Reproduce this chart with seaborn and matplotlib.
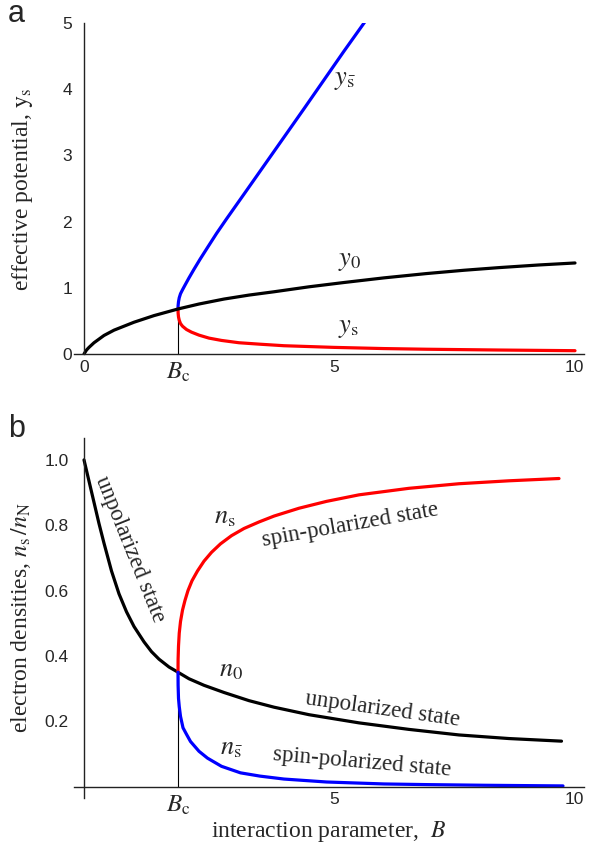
import matplotlib
matplotlib.use("Agg")
import matplotlib.pyplot as plt
import seaborn as sns

# ---------------- data ----------------
Bc = 1.88

# panel a: effective potentials
a_y0_B = [0.0, 0.05, 0.1, 0.2, 0.4, 0.6, 1.0, 1.4, 1.88, 2.3, 2.8, 3.3, 3.8, 4.5, 5.2, 6.0, 6.85, 7.6, 8.3, 9.1, 9.82]
a_y0 = [0.0, 0.06, 0.1, 0.17, 0.28, 0.36, 0.48, 0.58, 0.68, 0.755, 0.83, 0.89, 0.94, 1.015, 1.08, 1.15, 1.215, 1.265, 1.305, 1.345, 1.375]

a_ysb_B = [1.88, 1.882, 1.89, 1.905, 1.93, 1.97, 2.02, 2.10, 2.20, 2.32, 2.48, 2.65, 2.85, 3.2, 3.6, 4.0, 4.4, 4.8, 5.2, 5.62]
a_ysb = [0.68, 0.73, 0.79, 0.85, 0.91, 0.97, 1.04, 1.15, 1.28, 1.43, 1.62, 1.82, 2.04, 2.415, 2.845, 3.275, 3.705, 4.14, 4.575, 5.02]

a_ys_B = [1.88, 1.882, 1.89, 1.905, 1.93, 1.97, 2.05, 2.15, 2.30, 2.50, 2.75, 3.10, 3.52, 4.0, 5.0, 6.0, 6.85, 8.3, 9.82]
a_ys = [0.68, 0.62, 0.56, 0.51, 0.46, 0.42, 0.37, 0.33, 0.285, 0.24, 0.205, 0.17, 0.148, 0.125, 0.10, 0.082, 0.072, 0.06, 0.05]

# panel b: electron densities
b_n0_B = [0.0, 0.1, 0.2, 0.3, 0.4, 0.55, 0.7, 0.85, 1.0, 1.2, 1.35, 1.5, 1.7, 1.88, 2.1, 2.4, 2.8, 3.3, 3.8, 4.5, 5.5, 6.5, 7.5, 8.5, 9.55]
b_n0 = [1.0, 0.935, 0.87, 0.805, 0.745, 0.66, 0.59, 0.535, 0.49, 0.443, 0.413, 0.39, 0.366, 0.35, 0.33, 0.31, 0.288, 0.263, 0.243, 0.22, 0.195, 0.175, 0.158, 0.147, 0.139]

b_ns_B = [1.88, 1.882, 1.89, 1.905, 1.93, 1.97, 2.02, 2.08, 2.16, 2.27, 2.4, 2.55, 2.73, 2.95, 3.2, 3.5, 3.8, 4.3, 4.85, 5.5, 6.5, 7.5, 8.5, 9.5]
b_ns = [0.35, 0.39, 0.43, 0.47, 0.505, 0.54, 0.57, 0.60, 0.63, 0.66, 0.69, 0.717, 0.743, 0.768, 0.79, 0.81, 0.828, 0.852, 0.873, 0.893, 0.913, 0.927, 0.936, 0.943]

b_nsb_B = [1.88, 1.882, 1.89, 1.905, 1.93, 1.98, 2.05, 2.13, 2.3, 2.47, 2.75, 3.13, 3.52, 4.0, 4.85, 6.0, 6.85, 8.0, 9.58]
b_nsb = [0.35, 0.31, 0.27, 0.245, 0.215, 0.18, 0.16, 0.138, 0.108, 0.087, 0.062, 0.042, 0.032, 0.023, 0.014, 0.008, 0.006, 0.004, 0.002]

# ---------------- style ----------------
sns.set_style("white")
plt.rcParams["font.family"] = ["Liberation Sans", "DejaVu Sans"]
plt.rcParams["mathtext.fontset"] = "stix"

SERIF = ["Liberation Serif", "DejaVu Serif"]
LW = 2.3
BLUE = "#0000ff"
RED = "#ff0000"

fig = plt.figure(figsize=(5.92, 8.49), dpi=100)
axA = fig.add_axes([74 / 592, (849 - 354) / 849, 510 / 592, 331 / 849])
axB = fig.add_axes([74 / 592, (849 - 798) / 849, 510 / 592, 360 / 849])


def style_axes(ax, ypad):
    for s in ["top", "right"]:
        ax.spines[s].set_visible(False)
    ax.spines["left"].set_position(("data", 0))
    ax.spines["bottom"].set_position(("data", 0))
    for s in ["left", "bottom"]:
        ax.spines[s].set_color("#222222")
        ax.spines[s].set_linewidth(1.0)
    ax.tick_params(which="major", direction="in", length=6, width=0.9, color="#222222",
                   labelsize=12.5)
    ax.tick_params(which="minor", direction="in", length=3, width=0.8, color="#222222")
    ax.tick_params(axis="x", which="both", length=5, pad=4)
    ax.tick_params(axis="y", which="major", pad=ypad)
    ax.set_facecolor("white")


# ---------------- panel a ----------------
axA.plot([Bc, Bc], [0, a_y0[8]], color="black", lw=0.8, zorder=1)
sns.lineplot(x=a_ysb_B, y=a_ysb, sort=False, estimator=None, color=BLUE, lw=LW, ax=axA)
sns.lineplot(x=a_ys_B, y=a_ys, sort=False, estimator=None, color=RED, lw=LW, ax=axA)
sns.lineplot(x=a_y0_B, y=a_y0, sort=False, estimator=None, color="black", lw=LW, ax=axA)
axA.set_xlim(-0.2, 10)
axA.set_ylim(0, 5)
style_axes(axA, 8.5)
axA.set_xticks([0, 5, 10])
axA.set_xticklabels(["0", "5", "10"])
axA.get_xticklabels()[-1].set_ha("right")
axA.set_xticks([1, 2, 3, 4, 6, 7, 8, 9], minor=True)
axA.set_yticks([0, 1, 2, 3, 4, 5])
axA.set_yticks([v / 5 for v in range(26) if v % 5], minor=True)
axA.set_xlabel("")
axA.set_ylabel("")
axA.text(Bc, -0.27, r"$B_{\mathrm{c}}$", fontsize=18, ha="center", va="center", clip_on=False)
axA.text(5.22, 4.14, r"$y_{\bar{\mathrm{s}}}$", fontsize=19, ha="center", va="center")
axA.text(5.32, 1.40, r"$y_0$", fontsize=19, ha="center", va="center")
axA.text(5.28, 0.40, r"$y_{\mathrm{s}}$", fontsize=19, ha="center", va="center")

# ---------------- panel b ----------------
axB.plot([Bc, Bc], [0, b_n0[13]], color="black", lw=0.8, zorder=1)
sns.lineplot(x=b_n0_B, y=b_n0, sort=False, estimator=None, color="black", lw=LW, ax=axB)
sns.lineplot(x=b_ns_B, y=b_ns, sort=False, estimator=None, color=RED, lw=LW, ax=axB)
sns.lineplot(x=b_nsb_B, y=b_nsb, sort=False, estimator=None, color=BLUE, lw=LW, ax=axB)
axB.set_xlim(-0.2, 10)
axB.set_ylim(-0.035, 1.067)
style_axes(axB, 11)
axB.set_xticks([5, 10])
axB.set_xticklabels(["5", "10"])
axB.get_xticklabels()[-1].set_ha("right")
axB.set_xticks([1, 2, 3, 4, 6, 7, 8, 9], minor=True)
axB.set_yticks([0.2, 0.4, 0.6, 0.8, 1.0])
axB.set_yticklabels(["0.2", "0.4", "0.6", "0.8", "1.0"])
axB.set_yticks([0.05, 0.1, 0.15, 0.25, 0.3, 0.35, 0.45, 0.5, 0.55, 0.65, 0.7, 0.75,
                0.85, 0.9, 0.95], minor=True)
axB.set_xlabel("")
axB.set_ylabel("")
axB.text(Bc, -0.055, r"$B_{\mathrm{c}}$", fontsize=18, ha="center", va="center", clip_on=False)

axB.text(0.92, 0.725, "unpolarized state", family=SERIF, fontsize=16.5, rotation=-68,
         ha="center", va="center", rotation_mode="anchor")
axB.text(2.82, 0.826, r"$n_{\mathrm{s}}$", fontsize=19, ha="center", va="center")
axB.text(5.32, 0.80, "spin-polarized state", family=SERIF, fontsize=16.5, rotation=10,
         ha="center", va="center", rotation_mode="anchor")
axB.text(2.94, 0.358, r"$n_0$", fontsize=19, ha="center", va="center")
axB.text(5.98, 0.235, "unpolarized state", family=SERIF, fontsize=16.5, rotation=-8,
         ha="center", va="center", rotation_mode="anchor")
axB.text(2.94, 0.119, r"$n_{\bar{\mathrm{s}}}$", fontsize=19, ha="center", va="center")
axB.text(5.56, 0.073, "spin-polarized state", family=SERIF, fontsize=16.5, rotation=-5,
         ha="center", va="center", rotation_mode="anchor")

for ax in (axA, axB):
    leg = ax.get_legend()
    if leg is not None:
        leg.remove()

# axis titles
fig.text(23 / 592, 1 - 190 / 849, r"effective potential, $\mathrm{y}_{\mathrm{s}}$",
         family=SERIF, fontsize=17, rotation=90, ha="center", va="center")
fig.text(21 / 592, 1 - 618 / 849, r"electron densities, $n_{\mathrm{s}}\,/n_{\mathrm{N}}$",
         family=SERIF, fontsize=17, rotation=90, ha="center", va="center")
fig.text(328 / 592, 1 - 832 / 849, r"interaction parameter,  $B$",
         family=SERIF, fontsize=17, ha="center", va="center")

fig.text(8 / 592, 1 - 22 / 849, "a", fontsize=22, ha="left", va="baseline")
fig.text(8 / 592, 1 - 437 / 849, "b", fontsize=22, ha="left", va="baseline")

fig.savefig("out.png", dpi=100, facecolor="white")
